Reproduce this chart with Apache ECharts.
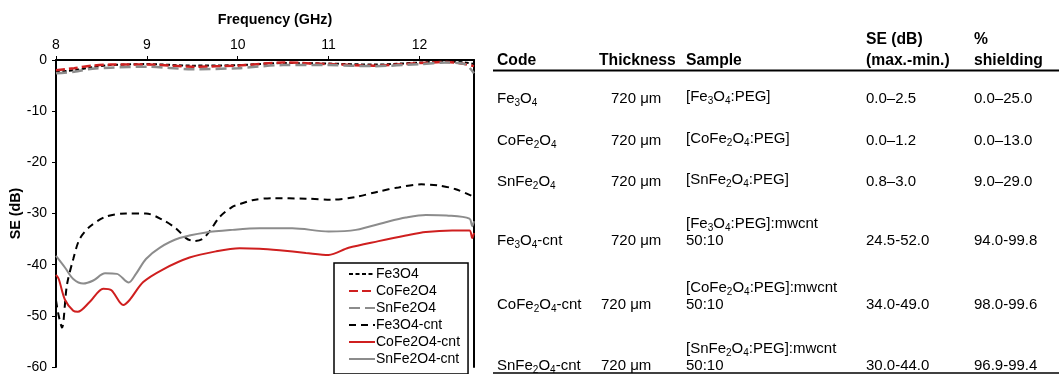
<!DOCTYPE html>
<html>
<head>
<meta charset="utf-8">
<script src="https://cdn.jsdelivr.net/npm/echarts@6/dist/echarts.min.js"></script>
<style>html,body{margin:0;padding:0;background:#fff}#c{width:1059px;height:374px}</style>
</head>
<body>
<div id="c"></div>
<script>
// ---------- data ----------
const seriesNames = ['Fe3O4', 'CoFe2O4', 'SnFe2O4', 'Fe3O4-cnt', 'CoFe2O4-cnt', 'SnFe2O4-cnt'];
const xTicks = [8, 9, 10, 11, 12];
const yTicks = [0, -10, -20, -30, -40, -50, -60];

const freqBase = [8.0, 8.2, 8.4, 8.6, 9.0, 9.5, 10.0, 10.5, 11.0, 11.5, 12.0, 12.3, 12.5, 12.6];
const seFe3O4   = [-2.3, -2.0, -1.4, -1.0, -0.8, -1.1, -1.0, -0.6, -0.7, -0.9, -0.5, -0.3, -0.5, -0.8];
const seCoFe2O4 = [-2.0, -1.6, -1.1, -0.9, -0.9, -1.3, -1.1, -0.5, -0.8, -1.1, -0.6, -0.4, -0.8, -1.2];
const seSnFe2O4 = [-2.6, -2.3, -1.7, -1.5, -1.3, -1.8, -1.6, -1.0, -1.0, -1.2, -0.8, -0.5, -0.8, -2.6];

const freqFeCnt = [8.0, 8.03, 8.066, 8.12, 8.19, 8.26, 8.37, 8.55, 8.77, 8.99, 9.17, 9.32, 9.43, 9.52, 9.61, 9.69, 9.8, 9.94, 10.02, 10.16, 10.38, 10.75, 11.03, 11.29, 11.55, 11.77, 12.02, 12.2, 12.39, 12.57, 12.6];
const seFeCnt   = [-47, -50, -52.3, -44, -38.9, -35, -32.6, -30.6, -30.0, -30.0, -31.2, -32.9, -34.8, -35.4, -35, -33.5, -30.7, -28.7, -28.2, -27.4, -27.0, -27.1, -27.3, -26.8, -25.7, -24.9, -24.3, -24.5, -25.2, -26.5, -26.8];

const freqCoCnt = [8.0, 8.03, 8.1, 8.19, 8.24, 8.37, 8.52, 8.61, 8.74, 8.81, 8.96, 9.18, 9.47, 9.76, 10.02, 10.24, 10.46, 10.75, 11.0, 11.22, 11.55, 11.85, 12.07, 12.36, 12.55, 12.58, 12.6];
const seCoCnt   = [-42.0, -42.8, -46.9, -49.0, -49.2, -47.3, -44.7, -45.0, -47.9, -46.9, -43.4, -40.9, -38.6, -37.4, -36.8, -36.9, -37.2, -37.7, -38.1, -36.7, -35.4, -34.3, -33.6, -33.3, -33.3, -34.8, -33.8];

const freqSnCnt = [8.0, 8.1, 8.19, 8.3, 8.41, 8.54, 8.67, 8.8, 8.88, 8.99, 9.14, 9.36, 9.65, 9.94, 10.24, 10.6, 11.0, 11.3, 11.65, 11.85, 12.07, 12.3, 12.55, 12.58, 12.6];
const seSnCnt   = [-38.3, -40.6, -42.8, -43.7, -43.1, -41.7, -41.8, -43.5, -41.8, -38.9, -36.7, -34.8, -33.7, -33.2, -32.9, -32.9, -33.5, -33.2, -31.6, -30.8, -30.3, -30.4, -31.0, -32.5, -31.5];

// table
const tableHeaders = ['Code', 'Thickness', 'Sample', 'SE (dB)\n(max.-min.)', '%\nshielding'];
const tableCodes = ['Fe3O4', 'CoFe2O4', 'SnFe2O4', 'Fe3O4-cnt', 'CoFe2O4-cnt', 'SnFe2O4-cnt'];
const tableThickness = ['720 μm', '720 μm', '720 μm', '720 μm', '720 μm', '720 μm'];
const tableSample = ['[Fe3O4:PEG]', '[CoFe2O4:PEG]', '[SnFe2O4:PEG]', '[Fe3O4:PEG]:mwcnt', '[CoFe2O4:PEG]:mwcnt', '[SnFe2O4:PEG]:mwcnt'];
const tableRatio = ['', '', '', '50:10', '50:10', '50:10'];
const tableSE = ['0.0–2.5', '0.0–1.2', '0.8–3.0', '24.5-52.0', '34.0-49.0', '30.0-44.0'];
const tableShield = ['0.0–25.0', '0.0–13.0', '9.0–29.0', '94.0-99.8', '98.0-99.6', '96.9-99.4'];

// ---------- chart ----------
const FONT = '"Liberation Sans", Arial, sans-serif';
const RED = '#cf1f1f', GRAY = '#8c8c8c', BLACK = '#000';
const zip = (xs, ys) => xs.map((x, i) => [x, ys[i]]);

const styles = [
  {color: BLACK, type: [4, 2.5], width: 2},
  {color: RED, type: [9, 4], width: 2.5},
  {color: GRAY, type: [11, 5], width: 2.5},
  {color: BLACK, type: [7, 5], width: 2},
  {color: RED, type: 'solid', width: 2},
  {color: GRAY, type: 'solid', width: 2}
];
const dataSets = [
  zip(freqBase, seFe3O4), zip(freqBase, seCoFe2O4), zip(freqBase, seSnFe2O4),
  zip(freqFeCnt, seFeCnt), zip(freqCoCnt, seCoCnt), zip(freqSnCnt, seSnCnt)
];

const series = seriesNames.map((n, i) => ({
  name: n, type: 'line', data: dataSets[i], symbol: 'none', smooth: 0.3,
  lineStyle: styles[i], itemStyle: {color: styles[i].color}, z: 2 + (i < 3 ? 1 : 0)
}));

// table graphics
const sub = s => s.replace(/(\d)/g, '{s|$1}');
const rich = {s: {fontSize: 10, lineHeight: 8, verticalAlign: 'bottom', fontFamily: FONT, fill: BLACK}};
function txt(text, x, y, bold, useRich) {
  const st = {text: text, x: x, y: y, fontFamily: FONT, fontSize: bold ? 15.7 : 15, fontWeight: bold ? 'bold' : 'normal',
    fill: BLACK, align: 'left', verticalAlign: 'middle', lineHeight: 18};
  if (useRich) st.rich = rich;
  return {type: 'text', style: st, z: 10};
}
const graphics = [];
const colX = [497, 599, 686, 866, 974];
// header
graphics.push(txt(tableHeaders[0], colX[0], 61, true));
graphics.push(txt(tableHeaders[1], colX[1], 61, true));
graphics.push(txt(tableHeaders[2], colX[2], 61, true));
tableHeaders[3].split('\n').forEach((t, k) => graphics.push(txt(t, colX[3], 40 + k * 21, true)));
tableHeaders[4].split('\n').forEach((t, k) => graphics.push(txt(t, colX[4], 40 + k * 21, true)));
graphics.push({type: 'line', shape: {x1: 493, y1: 70.5, x2: 1059, y2: 70.5}, style: {stroke: BLACK, lineWidth: 2}});
graphics.push({type: 'line', shape: {x1: 493, y1: 373, x2: 1059, y2: 373}, style: {stroke: BLACK, lineWidth: 1.5}});
const rowY = [99, 141, 182, 241, 305, 366];
tableCodes.forEach((c, i) => {
  const y = rowY[i];
  graphics.push(txt(sub(c), colX[0], y, false, true));
  graphics.push(txt(tableThickness[i], i >= 4 ? 601 : 611, y, false));
  if (tableRatio[i]) {
    graphics.push(txt(sub(tableSample[i]), colX[2], y - 17, false, true));
    graphics.push(txt(tableRatio[i], colX[2], y, false));
  } else {
    graphics.push(txt(sub(tableSample[i]), colX[2], y - 2, false, true));
  }
  graphics.push(txt(tableSE[i], colX[3], y, false));
  graphics.push(txt(tableShield[i], colX[4], y, false));
});

const chart = echarts.init(document.getElementById('c'), null, {renderer: 'canvas'});
chart.setOption({
  animation: false,
  backgroundColor: '#fff',
  grid: {left: 56, top: 60, width: 418, height: 313, containLabel: false},
  legend: {
    data: seriesNames, orient: 'vertical', left: 334, top: 263,
    backgroundColor: '#fff', borderColor: BLACK, borderWidth: 1.5, borderRadius: 0,
    padding: [4, 8, 8, 14], itemGap: 3, itemWidth: 26, itemHeight: 14,
    itemStyle: {opacity: 0},
    textStyle: {fontFamily: FONT, fontSize: 14, color: BLACK, padding: [0, 0, 0, -4]}
  },
  xAxis: {
    type: 'value', position: 'top', min: 8, max: 12.6, interval: 1,
    name: 'Frequency (GHz)', nameLocation: 'middle', nameGap: 33,
    nameTextStyle: {fontFamily: FONT, fontSize: 14.3, fontWeight: 'bold', color: BLACK, padding: [0, 0, 0, 20]},
    axisLine: {show: true, onZero: false, lineStyle: {color: BLACK, width: 2}},
    axisTick: {show: true, length: 4, lineStyle: {color: BLACK, width: 1}},
    axisLabel: {fontFamily: FONT, fontSize: 14, color: BLACK, margin: 8, showMaxLabel: false,
      formatter: v => xTicks.includes(v) ? String(v) : ''},
    splitLine: {show: false}
  },
  yAxis: [{
    type: 'value', min: -60, max: 0, interval: 10,
    name: 'SE (dB)', nameLocation: 'middle', nameGap: 32, nameRotate: 90,
    nameTextStyle: {fontFamily: FONT, fontSize: 14.3, fontWeight: 'bold', color: BLACK},
    axisLine: {show: true, onZero: false, lineStyle: {color: BLACK, width: 2}},
    axisTick: {show: true, length: 4, lineStyle: {color: BLACK, width: 1}},
    axisLabel: {fontFamily: FONT, fontSize: 14, color: BLACK, margin: 9,
      formatter: v => yTicks.includes(v) ? String(v) : ''},
    splitLine: {show: false}
  }, {
    type: 'value', min: -60, max: 0, interval: 10, position: 'right',
    axisLine: {show: true, onZero: false, lineStyle: {color: BLACK, width: 2}},
    axisTick: {show: false}, axisLabel: {show: false}, splitLine: {show: false}
  }],
  series: series,
  graphic: graphics
});
</script>
</body>
</html>
